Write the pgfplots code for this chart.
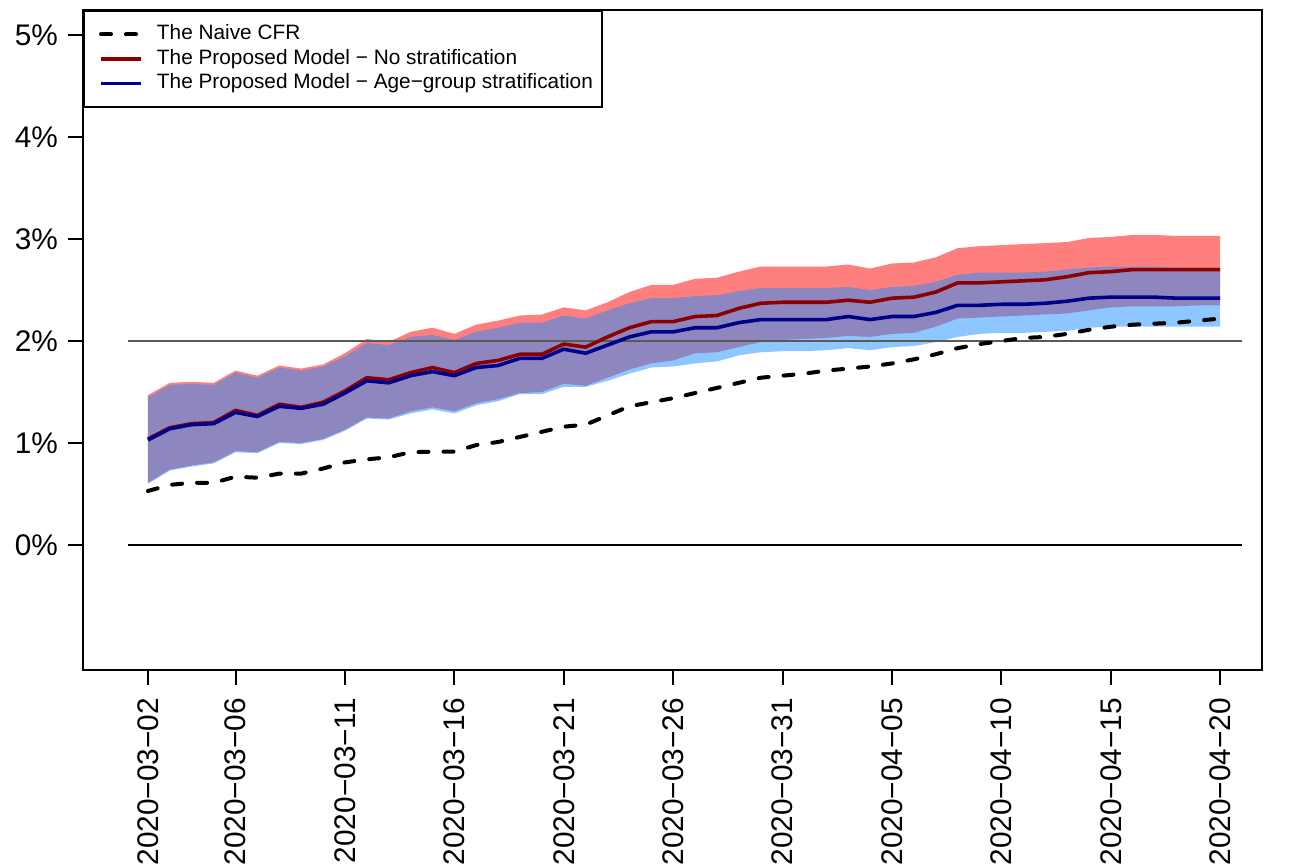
\documentclass[border=0pt]{standalone}
\usepackage{fontspec}
\setmainfont{Liberation Sans}
\usepackage{pgfplots}
\pgfplotsset{compat=1.18}
\usepackage{pgfplotstable}
\usepgfplotslibrary{fillbetween}
\definecolor{bandred}{RGB}{255,0,0}
\definecolor{bandblue}{RGB}{30,144,255}
\definecolor{linered}{RGB}{139,0,0}
\definecolor{lineblue}{RGB}{0,0,139}
\newcommand\tickfont{\fontsize{14.9}{17}\selectfont}
\pgfplotstableread{
d naive rm bm ru rl bu bl
0 0.53 1.04 1.03 1.47 0.61 1.45 0.60
1 0.59 1.15 1.14 1.59 0.74 1.57 0.73
2 0.61 1.19 1.18 1.60 0.78 1.58 0.77
3 0.61 1.20 1.19 1.59 0.81 1.57 0.80
4 0.67 1.32 1.30 1.71 0.92 1.69 0.91
5 0.66 1.27 1.26 1.66 0.91 1.64 0.90
6 0.70 1.38 1.36 1.76 1.01 1.74 1.00
7 0.70 1.35 1.34 1.73 1.00 1.71 0.99
8 0.75 1.40 1.38 1.77 1.04 1.75 1.03
9 0.81 1.51 1.49 1.88 1.13 1.85 1.12
10 0.84 1.64 1.61 2.02 1.25 1.98 1.24
11 0.86 1.62 1.59 1.99 1.24 1.96 1.23
12 0.91 1.69 1.66 2.09 1.31 2.04 1.29
13 0.915 1.74 1.70 2.13 1.35 2.06 1.33
14 0.915 1.69 1.66 2.07 1.31 2.01 1.29
15 0.98 1.78 1.74 2.16 1.39 2.09 1.37
16 1.01 1.81 1.76 2.20 1.43 2.13 1.41
17 1.06 1.87 1.83 2.25 1.49 2.18 1.48
18 1.11 1.87 1.83 2.26 1.50 2.18 1.48
19 1.16 1.97 1.92 2.33 1.58 2.25 1.55
20 1.18 1.94 1.88 2.30 1.56 2.22 1.55
21 1.27 2.04 1.96 2.38 1.64 2.30 1.61
22 1.36 2.13 2.04 2.48 1.72 2.37 1.68
23 1.40 2.19 2.09 2.55 1.78 2.42 1.74
24 1.44 2.19 2.09 2.55 1.81 2.42 1.75
25 1.49 2.24 2.13 2.61 1.88 2.44 1.78
26 1.54 2.25 2.13 2.62 1.89 2.45 1.80
27 1.59 2.32 2.18 2.68 1.94 2.49 1.86
28 1.64 2.37 2.21 2.73 1.99 2.52 1.89
29 1.66 2.38 2.21 2.73 2.01 2.52 1.90
30 1.68 2.38 2.21 2.73 2.02 2.52 1.90
31 1.71 2.38 2.21 2.73 2.03 2.52 1.91
32 1.73 2.40 2.24 2.75 2.05 2.53 1.93
33 1.75 2.38 2.21 2.71 2.04 2.50 1.91
34 1.78 2.42 2.24 2.76 2.07 2.53 1.94
35 1.82 2.43 2.24 2.77 2.08 2.54 1.95
36 1.87 2.48 2.28 2.82 2.14 2.58 1.99
37 1.93 2.57 2.35 2.91 2.22 2.65 2.04
38 1.97 2.57 2.35 2.93 2.23 2.67 2.07
39 2.00 2.58 2.36 2.94 2.24 2.67 2.08
40 2.03 2.59 2.36 2.95 2.25 2.67 2.08
41 2.04 2.60 2.37 2.96 2.26 2.68 2.09
42 2.07 2.63 2.39 2.97 2.27 2.70 2.10
43 2.11 2.67 2.42 3.01 2.30 2.72 2.13
44 2.14 2.68 2.43 3.02 2.33 2.73 2.14
45 2.16 2.70 2.43 3.04 2.34 2.73 2.14
46 2.17 2.70 2.43 3.04 2.34 2.73 2.14
47 2.18 2.70 2.42 3.03 2.34 2.72 2.14
48 2.20 2.70 2.42 3.03 2.35 2.72 2.14
49 2.22 2.70 2.42 3.03 2.35 2.72 2.14
}\cfr
\begin{document}
\begin{tikzpicture}
\begin{axis}[
  at={(0pt,0pt)}, anchor=south west,
  scale only axis, width=589.5pt, height=330pt,
  xmin=-2.97, xmax=50.91, ymin=-1.225, ymax=5.245,
  axis line style={line width=1pt},
  tick pos=left, tick align=outside,
  major tick length=7.5pt,
  tick style={black, line width=1pt},
  xtick={0,4,9,14,19,24,29,34,39,44,49},
  xticklabels={2020−03−02,2020−03−06,2020−03−11,2020−03−16,2020−03−21,2020−03−26,2020−03−31,2020−04−05,2020−04−10,2020−04−15,2020−04−20},
  x tick label style={rotate=90, anchor=east, font=\tickfont},
  xticklabel shift=3pt,
  ytick={0,1,2,3,4,5},
  yticklabels={0\%,1\%,2\%,3\%,4\%,5\%},
  y tick label style={font=\tickfont},
  yticklabel shift=1.5pt,
  legend cell align=left,
  legend style={at={(0,1)}, anchor=north west, draw=black, line width=1pt,
    inner xsep=4.5pt, inner ysep=7pt, row sep=2.75pt, column sep=7pt,
    nodes={inner sep=0pt, text height=7.5pt, text depth=2pt},
    font=\fontsize{10.4}{12}\selectfont},
  legend image code/.code={\path (0pt,0pt); \draw[#1] (3pt,0pt) -- (23pt,0pt);},
]
\addplot[draw=none, name path=ru, forget plot] table[x=d, y=ru]{\cfr};
\addplot[draw=none, name path=rl, forget plot] table[x=d, y=rl]{\cfr};
\addplot[bandred, fill opacity=0.5, draw=none, forget plot] fill between[of=ru and rl];
\addplot[draw=none, name path=bu, forget plot] table[x=d, y=bu]{\cfr};
\addplot[draw=none, name path=bl, forget plot] table[x=d, y=bl]{\cfr};
\addplot[bandblue, fill opacity=0.5, draw=none, forget plot] fill between[of=bu and bl];
\addplot[black, line width=0.9pt, forget plot] coordinates {(-0.91,0) (50,0)};
\addplot[black!65, line width=0.6pt, forget plot] coordinates {(-0.91,2) (50,2)};
\addplot[black, line width=2pt, line cap=round, dash pattern=on 5pt off 7.5pt] table[x=d, y=naive]{\cfr};
\addlegendentry{The Naive CFR}
\addplot[linered, line width=1.8pt, line join=round] table[x=d, y=rm]{\cfr};
\addlegendentry{The Proposed Model − No stratification}
\addplot[lineblue, line width=1.8pt, line join=round] table[x=d, y=bm]{\cfr};
\addlegendentry{The Proposed Model − Age−group stratification}
\end{axis}
\pgfresetboundingbox
\path[use as bounding box] (-41.5pt,-97.5pt) rectangle (604pt,335pt);
\end{tikzpicture}
\end{document}
